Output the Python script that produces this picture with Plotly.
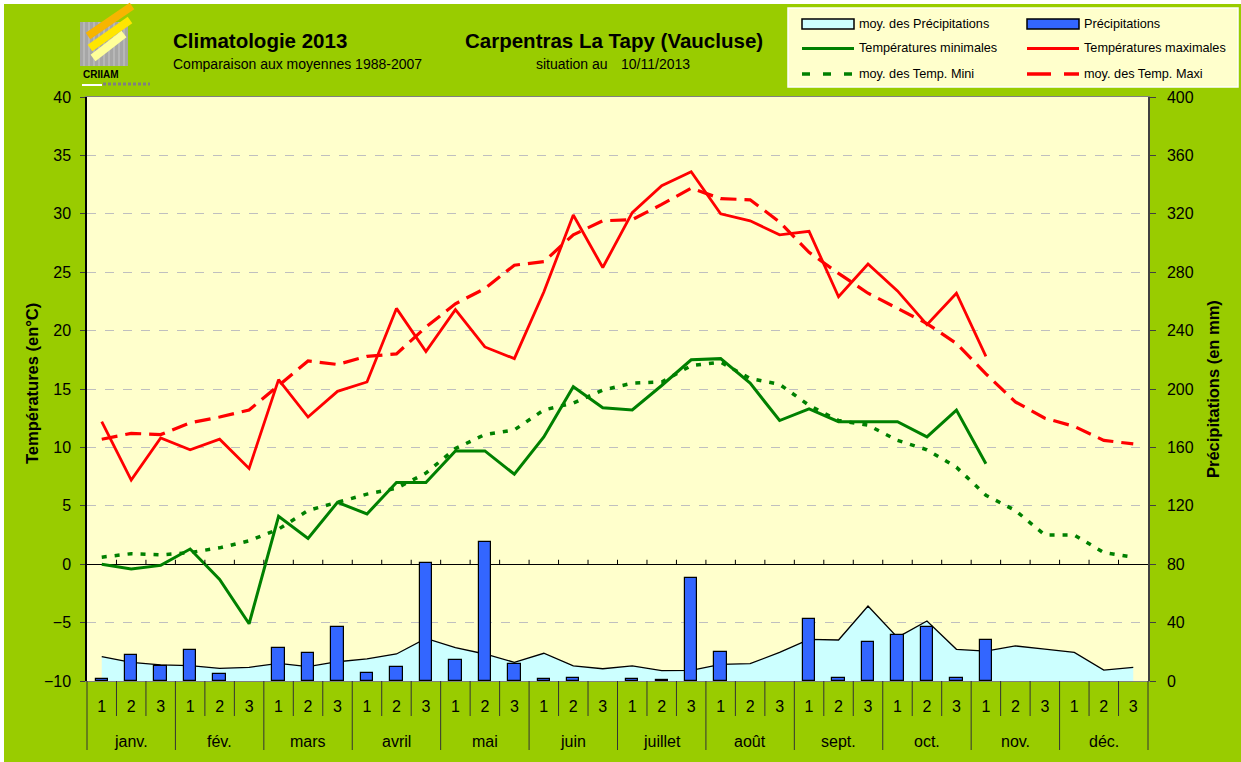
import plotly.graph_objects as go

# ---------------- data ----------------
months = ["janv.", "fév.", "mars", "avril", "mai", "juin",
          "juillet", "août", "sept.", "oct.", "nov.", "déc."]
decades = ["1", "2", "3"]

# 2013 observed (up to 1st decade of November); None = no rain
tmax = [12.2, 7.2, 10.8, 9.8, 10.7, 8.2, 15.8, 12.6, 14.8, 15.6, 21.9, 18.2,
        21.8, 18.6, 17.6, 23.3, 29.9, 25.4, 30.1, 32.4, 33.6, 30.0, 29.4, 28.2,
        28.5, 22.9, 25.7, 23.4, 20.5, 23.2, 17.8]
tmin = [0.0, -0.4, -0.1, 1.3, -1.3, -5.1, 4.1, 2.2, 5.3, 4.3, 7.0, 7.0,
        9.7, 9.7, 7.7, 10.9, 15.2, 13.4, 13.2, 15.3, 17.5, 17.6, 15.5, 12.3,
        13.3, 12.2, 12.2, 12.2, 10.9, 13.2, 8.6]
precip = [1.2, 17.6, 10.5, 21.5, 4.8, None, 22.8, 19.4, 37.0, 5.3, 9.8, 81.0,
          14.2, 95.2, 11.4, 1.2, 2.0, None, 1.2, 0.8, 70.8, 19.6, None, None,
          42.2, 2.0, 26.7, 31.5, 37.2, 2.1, 27.9]

# 1988-2007 averages
tmax_avg = [10.7, 11.2, 11.1, 12.1, 12.6, 13.2, 15.3, 17.4, 17.1, 17.8, 18.0, 20.3,
            22.3, 23.6, 25.6, 25.9, 28.2, 29.4, 29.5, 30.8, 32.2, 31.3, 31.2, 29.3,
            26.7, 24.9, 23.2, 21.9, 20.6, 18.9, 16.3, 13.9, 12.5, 11.8, 10.6, 10.3]
tmin_avg = [0.6, 0.9, 0.8, 1.0, 1.4, 2.0, 3.0, 4.6, 5.3, 6.0, 6.5, 7.8,
            9.9, 11.1, 11.5, 13.2, 13.8, 14.9, 15.5, 15.6, 17.0, 17.3, 15.9, 15.4,
            13.6, 12.3, 11.9, 10.6, 9.8, 8.3, 5.9, 4.6, 2.5, 2.5, 1.0, 0.6]
precip_avg = [16.7, 12.8, 11.0, 10.5, 8.7, 9.4, 12.1, 9.8, 13.2, 15.1, 18.5, 29.2,
              22.8, 18.5, 12.8, 19.0, 10.3, 8.4, 10.3, 7.1, 7.3, 11.4, 11.9, 19.6,
              28.5, 28.1, 51.4, 29.9, 41.1, 21.7, 20.5, 24.0, 21.9, 19.6, 7.5, 9.4]

# ---------------- layout geometry ----------------
W, H = 1241, 762
L, R, T, B = 87, 1148, 97, 681
FONT = "Liberation Sans, Arial, sans-serif"

n = len(months) * len(decades)
x_idx = list(range(n))
tick_text = decades * len(months)


def px(x):
    return (x - L) / (R - L)


def py(y):
    return (B - y) / (B - T)


GREEN = "#008000"
RED = "#FF0000"
BLUE = "#3366FF"
CYAN = "#CCFFFF"

fig = go.Figure()

fig.add_trace(go.Scatter(
    x=x_idx, y=precip_avg, yaxis="y", mode="lines", fill="tozeroy",
    fillcolor=CYAN, line=dict(color="black", width=1.3),
    name="moy. des Précipitations", showlegend=False))
fig.add_trace(go.Bar(
    x=x_idx[:len(precip)], y=precip, yaxis="y2", width=0.42,
    marker=dict(color=BLUE, line=dict(color="black", width=1.2)),
    name="Précipitations", showlegend=False))
fig.add_trace(go.Scatter(
    x=x_idx, y=tmin_avg, yaxis="y3", mode="lines",
    line=dict(color=GREEN, width=3.5, dash="5px,8px"),
    name="moy. des Temp. Mini", showlegend=False))
fig.add_trace(go.Scatter(
    x=x_idx, y=tmax_avg, yaxis="y3", mode="lines",
    line=dict(color=RED, width=3.2, dash="16px,8px"),
    name="moy. des Temp. Maxi", showlegend=False))
fig.add_trace(go.Scatter(
    x=x_idx[:len(tmin)], y=tmin, yaxis="y3", mode="lines",
    line=dict(color=GREEN, width=3),
    name="Températures minimales", showlegend=False))
fig.add_trace(go.Scatter(
    x=x_idx[:len(tmax)], y=tmax, yaxis="y3", mode="lines",
    line=dict(color=RED, width=2.8),
    name="Températures maximales", showlegend=False))

shapes = []
annotations = []

# white outer edge (top and left)
shapes.append(dict(type="rect", xref="paper", yref="paper", layer="below",
                   x0=px(0), x1=px(W + 5), y0=py(4), y1=py(-5),
                   fillcolor="white", line=dict(width=0)))
shapes.append(dict(type="rect", xref="paper", yref="paper", layer="below",
                   x0=px(-5), x1=px(4), y0=py(H + 5), y1=py(-5),
                   fillcolor="white", line=dict(width=0)))

# category separators below the plot (two-level axis)
for b in range(n + 1):
    is_month = (b % len(decades) == 0)
    shapes.append(dict(type="line", xref="paper", yref="paper",
                       x0=b / n, x1=b / n, y0=0, y1=py(750 if is_month else 716),
                       line=dict(color="#333333", width=1)))
# small ticks on the 0°C line
for b in range(1, n):
    shapes.append(dict(type="line", xref="paper", yref="y3",
                       x0=b / n, x1=b / n, y0=0, y1=0.38,
                       line=dict(color="black", width=1)))

# month labels
for m, name in enumerate(months):
    annotations.append(dict(xref="x", yref="paper", x=m * len(decades) + 1,
                            y=py(741), text=name, showarrow=False,
                            font=dict(family=FONT, size=16, color="black"),
                            xanchor="center", yanchor="middle"))

# axis titles
annotations.append(dict(xref="paper", yref="paper", x=px(32), y=py(384),
                        text="<b>Températures (en°C)</b>", textangle=-90,
                        showarrow=False, xanchor="center", yanchor="middle",
                        font=dict(family=FONT, size=16.5, color="black")))
annotations.append(dict(xref="paper", yref="paper", x=px(1213), y=py(389),
                        text="<b>Précipitations (en mm)</b>", textangle=-90,
                        showarrow=False, xanchor="center", yanchor="middle",
                        font=dict(family=FONT, size=16.5, color="black")))

# header texts
def head(text, x, y, size, bold=False):
    annotations.append(dict(xref="paper", yref="paper", x=px(x), y=py(y),
                            text=("<b>%s</b>" % text) if bold else text,
                            showarrow=False, xanchor="left", yanchor="middle",
                            font=dict(family=FONT, size=size, color="black")))

head("Climatologie 2013", 171, 40, 20.5, True)
head("Comparaison aux moyennes 1988-2007", 171, 64, 14)
head("Carpentras La Tapy (Vaucluse)", 463, 40, 20.5, True)
head("situation au", 534, 64, 14)
head("10/11/2013", 619, 64, 14)

# logo (approximate)
shapes.append(dict(type="rect", xref="paper", yref="paper",
                   x0=px(80), x1=px(128), y0=py(66), y1=py(22),
                   fillcolor="#A6A6A6", line=dict(width=0)))
for gx in range(84, 128, 5):
    shapes.append(dict(type="line", xref="paper", yref="paper",
                       x0=px(gx), x1=px(gx), y0=py(66), y1=py(22),
                       line=dict(color="#C8C8C8", width=1)))
for (x0, y0, x1, y1, c) in [(88, 36, 132, 6, "#F7B500"),
                            (90, 48, 130, 20, "#FFE600"),
                            (93, 58, 124, 34, "#FFFF99")]:
    shapes.append(dict(type="line", xref="paper", yref="paper",
                       x0=px(x0), x1=px(x1), y0=py(y0), y1=py(y1),
                       line=dict(color=c, width=8)))
annotations.append(dict(xref="paper", yref="paper", x=px(81), y=py(74),
                        text="<b>CRIIAM</b>", showarrow=False, xanchor="left",
                        yanchor="middle",
                        font=dict(family=FONT, size=10, color="black")))
shapes.append(dict(type="line", xref="paper", yref="paper",
                   x0=px(82), x1=px(102), y0=py(85), y1=py(85),
                   line=dict(color="white", width=2)))
shapes.append(dict(type="line", xref="paper", yref="paper",
                   x0=px(103), x1=px(150), y0=py(84), y1=py(84),
                   line=dict(color="#808080", width=3, dash="3px,2px")))

# legend box (manual)
shapes.append(dict(type="rect", xref="paper", yref="paper",
                   x0=px(788), x1=px(1238), y0=py(87), y1=py(8),
                   fillcolor="#FFFFCC", line=dict(color="white", width=1.5)))
c1, c2 = 802, 1027
sw = 52
rows = [24, 48.5, 74]
shapes.append(dict(type="rect", xref="paper", yref="paper",
                   x0=px(c1), x1=px(c1 + sw), y0=py(29), y1=py(19),
                   fillcolor=CYAN, line=dict(color="black", width=1.5)))
shapes.append(dict(type="rect", xref="paper", yref="paper",
                   x0=px(c2), x1=px(c2 + sw), y0=py(29), y1=py(19),
                   fillcolor=BLUE, line=dict(color="black", width=1.5)))
shapes.append(dict(type="line", xref="paper", yref="paper",
                   x0=px(c1), x1=px(c1 + sw), y0=py(rows[1]), y1=py(rows[1]),
                   line=dict(color=GREEN, width=3)))
shapes.append(dict(type="line", xref="paper", yref="paper",
                   x0=px(c2), x1=px(c2 + sw), y0=py(rows[1]), y1=py(rows[1]),
                   line=dict(color=RED, width=3)))
shapes.append(dict(type="line", xref="paper", yref="paper",
                   x0=px(c1), x1=px(c1 + sw), y0=py(rows[2]), y1=py(rows[2]),
                   line=dict(color=GREEN, width=3.5, dash="8px,13px")))
shapes.append(dict(type="line", xref="paper", yref="paper",
                   x0=px(c2), x1=px(c2 + sw), y0=py(rows[2]), y1=py(rows[2]),
                   line=dict(color=RED, width=3.5, dash="24px,13px")))
leg_texts = [("moy. des Précipitations", "Précipitations"),
             ("Températures minimales", "Températures maximales"),
             ("moy. des Temp. Mini", "moy. des Temp. Maxi")]
for r, (t1, t2) in zip(rows, leg_texts):
    for cx, t in ((c1, t1), (c2, t2)):
        annotations.append(dict(xref="paper", yref="paper", x=px(cx + sw + 3),
                                y=py(r), text=t, showarrow=False,
                                xanchor="left", yanchor="middle",
                                font=dict(family=FONT, size=12.7, color="black")))

fig.update_layout(
    width=W, height=H, autosize=False,
    margin=dict(l=L, r=W - R, t=T, b=H - B, pad=0),
    paper_bgcolor="#99CC00", plot_bgcolor="#FFFFCC",
    font=dict(family=FONT, size=16, color="black"),
    showlegend=False, bargap=0,
    xaxis=dict(range=[-0.5, n - 0.5], tickmode="array", tickvals=x_idx,
               ticktext=tick_text, ticks="", showgrid=False, zeroline=False,
               showline=True, linecolor="#808080", linewidth=1, mirror=True,
               tickfont=dict(family=FONT, size=16, color="black"),
               ticklabelstandoff=11),
    yaxis=dict(range=[0, 400], dtick=40, side="right", showgrid=True,
               gridcolor="#BFBFBF", griddash="dash", gridwidth=1,
               zeroline=False, showline=True, linecolor="#404040", linewidth=1.5,
               ticks="outside", ticklen=6, tickcolor="#404040",
               tickfont=dict(family=FONT, size=16, color="black"),
               ticklabelstandoff=8),
    yaxis2=dict(range=[0, 400], overlaying="y", side="right", visible=False),
    yaxis3=dict(range=[-10, 40], dtick=5, overlaying="y", side="left",
                showgrid=False, zeroline=True, zerolinecolor="black",
                zerolinewidth=1.2, showline=True, linecolor="black",
                linewidth=1.5, ticks="outside", ticklen=5, tickcolor="#404040",
                tickfont=dict(family=FONT, size=16, color="black"),
                ticklabelstandoff=6),
    shapes=shapes, annotations=annotations,
)

fig.write_html(
    "out.html",
    config={"displayModeBar": False},
    post_script="document.body.style.margin='0px';"
                "document.documentElement.style.overflow='hidden';",
)
